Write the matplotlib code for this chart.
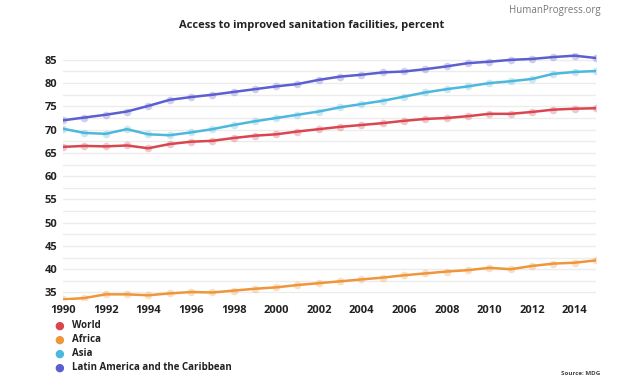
import matplotlib
matplotlib.use("Agg")
import matplotlib.pyplot as plt
import numpy as np

plt.rcParams['font.family'] = ['Open Sans', 'DejaVu Sans']

years = list(range(1990, 2016))
world = [66.3, 66.5, 66.4, 66.6, 66.0, 66.9, 67.4, 67.6, 68.2, 68.7, 69.0, 69.6, 70.1,
         70.6, 71.0, 71.4, 71.9, 72.3, 72.5, 72.9, 73.4, 73.4, 73.8, 74.3, 74.5, 74.6]
africa = [33.5, 33.8, 34.6, 34.6, 34.4, 34.8, 35.1, 35.0, 35.4, 35.8, 36.1, 36.6, 37.0,
          37.4, 37.8, 38.2, 38.7, 39.1, 39.5, 39.8, 40.3, 40.0, 40.7, 41.2, 41.4, 41.9]
asia = [70.2, 69.3, 69.1, 70.1, 69.0, 68.8, 69.4, 70.1, 71.0, 71.8, 72.5, 73.2, 73.9,
        74.8, 75.5, 76.2, 77.1, 78.0, 78.7, 79.3, 80.0, 80.4, 80.9, 82.0, 82.4, 82.6]
latam = [72.0, 72.6, 73.2, 73.9, 75.1, 76.4, 77.0, 77.5, 78.1, 78.7, 79.3, 79.8, 80.7,
         81.4, 81.8, 82.3, 82.5, 83.0, 83.6, 84.3, 84.6, 85.0, 85.2, 85.6, 85.9, 85.4]

series = [("World", world, "#d9464f"),
          ("Africa", africa, "#f0963a"),
          ("Asia", asia, "#4db8dc"),
          ("Latin America and the Caribbean", latam, "#5b5fcf")]

fig = plt.figure(figsize=(6.24, 3.86), dpi=100)
ax = fig.add_axes([0.101, 0.223, 0.854, 0.64])

for name, vals, col in series:
    ax.plot(years, vals, color=col, lw=1.8, zorder=3)
    ax.plot(years, vals, ls='', marker='o', ms=5.5, color=col, alpha=0.3,
            markeredgewidth=0, zorder=4)

ax.set_xlim(1990, 2015)
ax.set_ylim(33.4, 86.5)
ax.set_yticks(np.arange(35, 86, 5))
ax.set_yticks(np.arange(35, 86, 2.5), minor=True)
ax.set_xticks(range(1990, 2015, 2))
ax.grid(axis='y', which='both', color='#ececec', lw=1, zorder=0)
ax.tick_params(which='both', length=0)
ax.tick_params(axis='y', pad=13)
ax.tick_params(axis='x', pad=4)
for lab in ax.get_xticklabels() + ax.get_yticklabels():
    lab.set_fontweight('bold')
    lab.set_fontsize(8)
    lab.set_color('#222222')
for lab in ax.get_yticklabels():
    lab.set_horizontalalignment('left')
for s in ax.spines.values():
    s.set_visible(False)

fig.text(0.5, 0.935, "Access to improved sanitation facilities, percent",
         ha='center', va='center', fontsize=8, fontweight='bold', color='#222222')
fig.text(0.962, 0.972, "HumanProgress.org", ha='right', va='center',
         fontsize=7, color='#777777')
fig.text(0.962, 0.032, "Source: MDG", ha='right', va='center',
         fontsize=4.5, fontweight='bold', color='#444444')

for i, (name, vals, col) in enumerate(series):
    y = 0.156 - i * 0.0363
    fig.text(0.095, y, "\u25cf", color=col, fontsize=8, ha='center', va='center',
             family=['DejaVu Sans'])
    fig.text(0.115, y, name, fontsize=7, fontweight='bold', color='#222222',
             ha='left', va='center')

fig.savefig("out.png", dpi=100)
